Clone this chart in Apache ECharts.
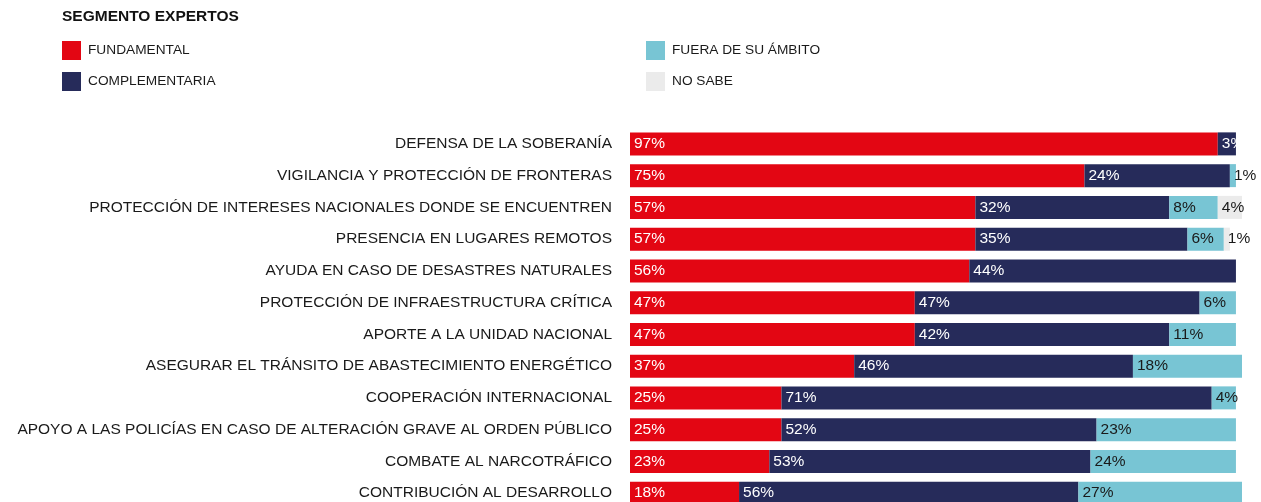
<!DOCTYPE html>
<html>
<head>
<meta charset="utf-8">
<script src="https://cdn.jsdelivr.net/npm/echarts@6/dist/echarts.min.js"></script>
<style>
  html, body { margin: 0; padding: 0; background: #fff; }
  #chart { width: 1261px; height: 502px; }
</style>
</head>
<body>
<div id="chart"></div>
<script>
var categories = [
    'DEFENSA DE LA SOBERANÍA',
    'VIGILANCIA Y PROTECCIÓN DE FRONTERAS',
    'PROTECCIÓN DE INTERESES NACIONALES DONDE SE ENCUENTREN',
    'PRESENCIA EN LUGARES REMOTOS',
    'AYUDA EN CASO DE DESASTRES NATURALES',
    'PROTECCIÓN DE INFRAESTRUCTURA CRÍTICA',
    'APORTE A LA UNIDAD NACIONAL',
    'ASEGURAR EL TRÁNSITO DE ABASTECIMIENTO ENERGÉTICO',
    'COOPERACIÓN INTERNACIONAL',
    'APOYO A LAS POLICÍAS EN CASO DE ALTERACIÓN GRAVE AL ORDEN PÚBLICO',
    'COMBATE AL NARCOTRÁFICO',
    'CONTRIBUCIÓN AL DESARROLLO'
];
var fundamental = [97, 75, 57, 57, 56, 47, 47, 37, 25, 25, 23, 18];
var complementaria = [3, 24, 32, 35, 44, 47, 42, 46, 71, 52, 53, 56];
var fueraAmbito = [0, 1, 8, 6, 0, 6, 11, 18, 4, 23, 24, 27];
var noSabe = [0, 0, 4, 1, 0, 0, 0, 0, 0, 0, 0, 0];

var FONT = "'Liberation Sans', Arial, sans-serif";

const chart = echarts.init(document.getElementById('chart'));

function makeSeries(name, data, color, textColor) {
    return {
        name: name,
        type: 'bar',
        stack: 'total',
        barWidth: 23,
        data: data,
        itemStyle: { color: color },
        label: {
            show: true,
            position: 'insideLeft',
            distance: 4,
            color: textColor,
            fontFamily: FONT,
            fontSize: 15.5,
            formatter: function (p) {
                return p.value ? p.value + '%' : '';
            }
        },
        emphasis: { disabled: true }
    };
}

var legendText = { color: '#1a1a1a', fontFamily: FONT, fontSize: 13.7, padding: [0, 0, 0, 2] };

var option = {
    animation: false,
    title: {
        text: 'SEGMENTO EXPERTOS',
        left: 62,
        top: 9,
        padding: 0,
        textStyle: { fontFamily: FONT, fontSize: 15.5, fontWeight: 'bold', color: '#111' }
    },
    legend: [{
        data: ['FUNDAMENTAL', 'COMPLEMENTARIA'],
        orient: 'vertical',
        left: 62,
        top: 41,
        padding: 0,
        itemWidth: 19,
        itemHeight: 19,
        itemGap: 12,
        icon: 'rect',
        textStyle: legendText,
        selectedMode: false
    }, {
        data: ['FUERA DE SU ÁMBITO', 'NO SABE'],
        orient: 'vertical',
        left: 646,
        top: 41,
        padding: 0,
        itemWidth: 19,
        itemHeight: 19,
        itemGap: 12,
        icon: 'rect',
        textStyle: legendText,
        selectedMode: false
    }],
    grid: {
        left: 630,
        width: 612,
        top: 128,
        bottom: -7,
        containLabel: false,
        outerBoundsMode: 'none'
    },
    xAxis: {
        type: 'value',
        min: 0,
        max: 101,
        show: false
    },
    yAxis: {
        type: 'category',
        inverse: true,
        data: categories,
        axisLine: { show: false },
        axisTick: { show: false },
        axisLabel: {
            margin: 18,
            color: '#1a1a1a',
            fontFamily: FONT,
            fontSize: 15.5
        }
    },
    series: [
        makeSeries('FUNDAMENTAL', fundamental, '#E30613', '#ffffff'),
        makeSeries('COMPLEMENTARIA', complementaria, '#262B5A', '#ffffff'),
        makeSeries('FUERA DE SU ÁMBITO', fueraAmbito, '#78C5D4', '#1a1a1a'),
        makeSeries('NO SABE', noSabe, '#EBEBEB', '#1a1a1a')
    ]
};

chart.setOption(option);
</script>
</body>
</html>
